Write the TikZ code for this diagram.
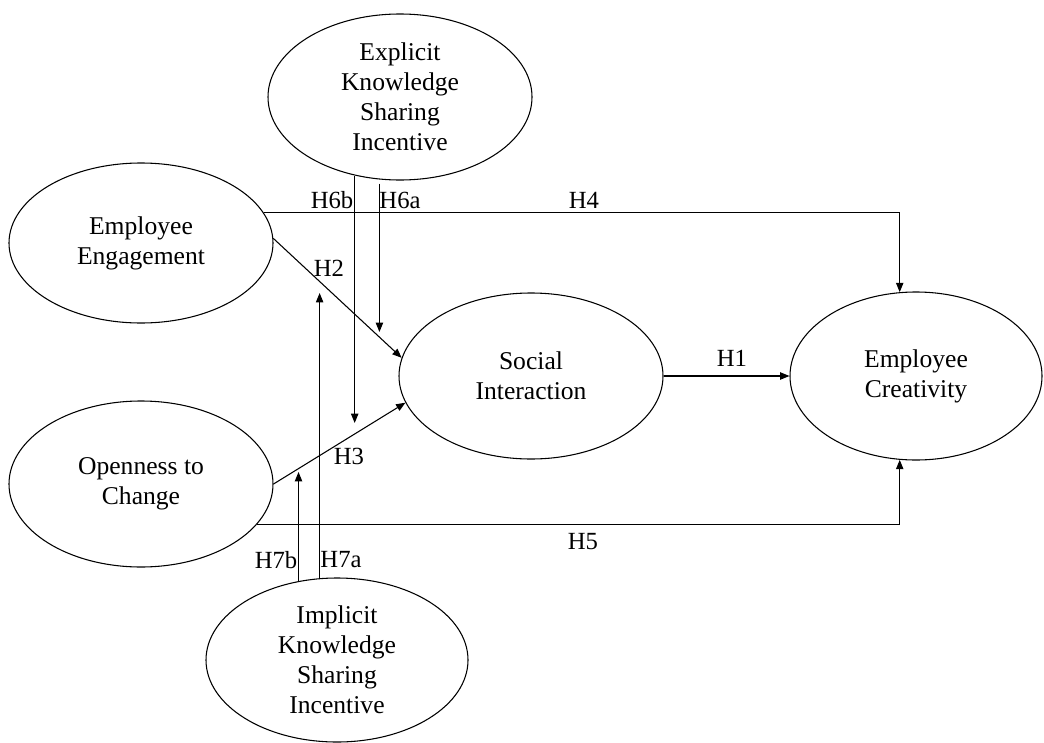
\documentclass[tikz,border=0pt]{standalone}
\usepackage{fontspec}
\setmainfont{Liberation Serif}
\usetikzlibrary{shapes.geometric,arrows.meta}

\tikzset{
	construct/.style={draw, ellipse, line width=0.8pt, inner sep=0pt, align=center,
		font=\fontsize{19.2}{22.5}\selectfont},
	arr/.style={line width=0.8pt, -{Triangle[length=7pt,width=5.5pt]}},
	hyp/.style={font=\fontsize{18.5}{20}\selectfont, inner sep=0pt}
}

\begin{document}
\begin{tikzpicture}[x=0.75pt, y=-0.75pt]
		\useasboundingbox (0, 0) rectangle (1044, 742);

		\node[construct, minimum width=198pt, minimum height=124.5pt] (eks) at(400, 97){Explicit\\Knowledge\\Sharing\\Incentive};
		\node[construct, minimum width=198pt, minimum height=120pt] (ee) at(141, 243){Employee\\Engagement};
		\node[construct, minimum width=198pt, minimum height=124.5pt] (si) at(531, 376){Social\\Interaction};
		\node[construct, minimum width=189pt, minimum height=126pt] (ec) at(916, 376){Employee\\Creativity};
		\node[construct, minimum width=198pt, minimum height=124.5pt] (oc) at(141, 484){Openness to\\Change};
		\node[construct, minimum width=196.5pt, minimum height=123pt] (iks) at(337, 660){Implicit\\Knowledge\\Sharing\\Incentive};

		% direct paths
		\draw[arr] (si.east) to (ec.west);
		\draw[arr] (ee.2) to (si.172);
		\draw[arr] (oc.east) to (si.192);
		\draw[arr] (ee.14) -| (ec.101);
		\draw[arr] (oc.-19) -| (ec.-101);

		% moderators
		\coordinate (h6b) at (eks.240 |- 0, 423);
		\coordinate (h6a) at (eks.256 |- 0, 332);
		\coordinate (h7b) at (iks.116 |- 0, 472);
		\coordinate (h7a) at (iks.102.5 |- 0, 293);
		\draw[arr] (eks.240) to (h6b);
		\draw[arr, shorten <=3pt] (eks.256) to (h6a);
		\draw[arr] (iks.116) to (h7b);
		\draw[arr] (iks.102.5) to (h7a);

		\node[hyp] (l1) at(732, 358){H1};
		\node[hyp] (l2) at(329, 268){H2};
		\node[hyp] (l3) at(349, 456){H3};
		\node[hyp] (l4) at(584, 200){H4};
		\node[hyp] (l5) at(583, 542){H5};
		\node[hyp] (l6b) at(332, 200){H6b};
		\node[hyp] (l6a) at(400, 200){H6a};
		\node[hyp] (l7b) at(276, 560){H7b};
		\node[hyp] (l7a) at(341, 560){H7a};
	\end{tikzpicture}
\end{document}
